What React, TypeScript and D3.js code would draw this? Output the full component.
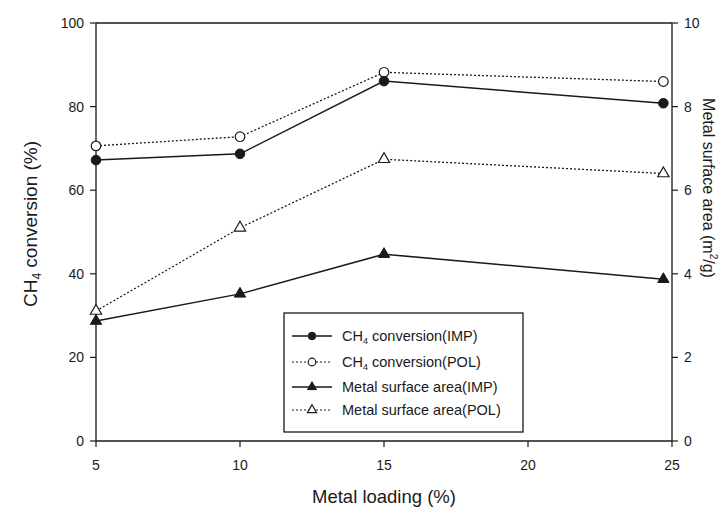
import React from "react";
import * as d3 from "d3";

const loading = [5, 10, 15, 24.7];
const ch4IMP = [67.2, 68.7, 86.1, 80.8];
const ch4POL = [70.6, 72.8, 88.2, 86.0];
const areaIMP = [2.87, 3.52, 4.47, 3.87];
const areaPOL = [3.11, 5.1, 6.74, 6.4];
const xTicks = [5, 10, 15, 20, 25];
const yLeftTicks = [0, 20, 40, 60, 80, 100];
const yRightTicks = [0, 2, 4, 6, 8, 10];

const W = 725, H = 513;
const L = 96, R = 672, T = 23, B = 441;
const FONT = "Liberation Sans, Arial, sans-serif";

export default function App() {
  const x = d3.scaleLinear().domain([5, 25]).range([L, R]);
  const yL = d3.scaleLinear().domain([0, 100]).range([B, T]);
  const yR = d3.scaleLinear().domain([0, 10]).range([B, T]);

  const lineL = d3.line<[number, number]>().x(d => x(d[0])).y(d => yL(d[1]));
  const lineR = d3.line<[number, number]>().x(d => x(d[0])).y(d => yR(d[1]));
  const pts = (vals: number[]) => loading.map((l, i) => [l, vals[i]] as [number, number]);

  const tri = d3.symbol().type(d3.symbolTriangle).size(55)() as string;
  const triSmall = d3.symbol().type(d3.symbolTriangle).size(36)() as string;
  const col = "#1a1a1a";

  const legendRows = [
    { label: "conversion(IMP)", ch4: true, dash: null, marker: "fc" },
    { label: "conversion(POL)", ch4: true, dash: "2,2", marker: "oc" },
    { label: "Metal surface area(IMP)", ch4: false, dash: null, marker: "ft" },
    { label: "Metal surface area(POL)", ch4: false, dash: "2,2", marker: "ot" },
  ];
  const legendY = [336, 362, 387, 410];

  const marker = (kind: string, cx: number, cy: number, key: string, small = false) => {
    const r = small ? 3.8 : 4.8;
    const t = small ? triSmall : tri;
    if (kind === "fc") return <circle key={key} cx={cx} cy={cy} r={r} fill={col} stroke={col} strokeWidth={1} />;
    if (kind === "oc") return <circle key={key} cx={cx} cy={cy} r={r} fill="#fff" stroke={col} strokeWidth={1.2} />;
    if (kind === "ft") return <path key={key} d={t} transform={`translate(${cx},${cy})`} fill={col} stroke={col} strokeWidth={1} />;
    return <path key={key} d={t} transform={`translate(${cx},${cy})`} fill="#fff" stroke={col} strokeWidth={1.2} />;
  };

  return (
    <svg width={W} height={H} style={{ position: "absolute", left: 0, top: 0, background: "#fff" }} fontFamily={FONT}>
      <rect x={0} y={0} width={W} height={H} fill="#fff" />
      {/* frame */}
      <line x1={L} x2={R} y1={T} y2={T} stroke={col} strokeWidth={1.3} />
      <line x1={L} x2={R} y1={B} y2={B} stroke={col} strokeWidth={1.3} />
      <line x1={L} x2={L} y1={T} y2={B} stroke={col} strokeWidth={1.3} />
      <line x1={R} x2={R} y1={T} y2={B} stroke={col} strokeWidth={1.3} />

      {/* x ticks */}
      {xTicks.map(t => (
        <g key={"x" + t}>
          <line x1={x(t)} x2={x(t)} y1={B} y2={B + 6} stroke={col} strokeWidth={1.2} />
          <text x={x(t)} y={B + 29} textAnchor="middle" fontSize={14} fill={col}>{t}</text>
        </g>
      ))}
      {/* left ticks */}
      {yLeftTicks.map(t => (
        <g key={"yl" + t}>
          <line x1={L - 6} x2={L} y1={yL(t)} y2={yL(t)} stroke={col} strokeWidth={1.2} />
          <text x={L - 12} y={yL(t) + 5} textAnchor="end" fontSize={14} fill={col}>{t}</text>
        </g>
      ))}
      {/* right ticks */}
      {yRightTicks.map(t => (
        <g key={"yr" + t}>
          <line x1={R} x2={R + 6} y1={yR(t)} y2={yR(t)} stroke={col} strokeWidth={1.2} />
          <text x={R + 12} y={yR(t) + 5} textAnchor="start" fontSize={14} fill={col}>{t}</text>
        </g>
      ))}

      {/* titles */}
      <text x={384} y={503} textAnchor="middle" fontSize={18.5} fill={col}>Metal loading (%)</text>
      <text transform={`translate(37,224) rotate(-90)`} textAnchor="middle" fontSize={19} fill={col}>
        CH<tspan fontSize={12} dy={4}>4</tspan><tspan dy={-4}> conversion (%)</tspan>
      </text>
      <text transform={`translate(703,188) rotate(90)`} textAnchor="middle" fontSize={16} fill={col}>
        Metal surface area (m<tspan fontSize={10} dy={-7}>2</tspan><tspan dy={7}>/g)</tspan>
      </text>

      {/* series lines */}
      <path d={lineL(pts(ch4IMP)) as string} fill="none" stroke={col} strokeWidth={1.5} />
      <path d={lineL(pts(ch4POL)) as string} fill="none" stroke={col} strokeWidth={1.3} strokeDasharray="2,2" />
      <path d={lineR(pts(areaIMP)) as string} fill="none" stroke={col} strokeWidth={1.5} />
      <path d={lineR(pts(areaPOL)) as string} fill="none" stroke={col} strokeWidth={1.3} strokeDasharray="2,2" />

      {/* markers */}
      {pts(ch4POL).map((p, i) => marker("oc", x(p[0]), yL(p[1]), "cp" + i))}
      {pts(ch4IMP).map((p, i) => marker("fc", x(p[0]), yL(p[1]), "ci" + i))}
      {pts(areaPOL).map((p, i) => marker("ot", x(p[0]), yR(p[1]), "ap" + i))}
      {pts(areaIMP).map((p, i) => marker("ft", x(p[0]), yR(p[1]), "ai" + i))}

      {/* legend */}
      <rect x={284} y={313} width={239} height={119} fill="#fff" stroke={col} strokeWidth={1.3} />
      {legendRows.map((r, i) => {
        const yy = legendY[i];
        return (
          <g key={"lg" + i}>
            <line x1={292} x2={332} y1={yy} y2={yy} stroke={col} strokeWidth={r.dash ? 1.2 : 1.5} strokeDasharray={r.dash ?? undefined} />
            {marker(r.marker, 312, yy, "lm" + i, true)}
            <text x={342} y={yy + 5} fontSize={14.5} fill={col}>
              {r.ch4 ? (
                <>CH<tspan fontSize={9} dy={3}>4</tspan><tspan dy={-3}> {r.label}</tspan></>
              ) : r.label}
            </text>
          </g>
        );
      })}
    </svg>
  );
}
